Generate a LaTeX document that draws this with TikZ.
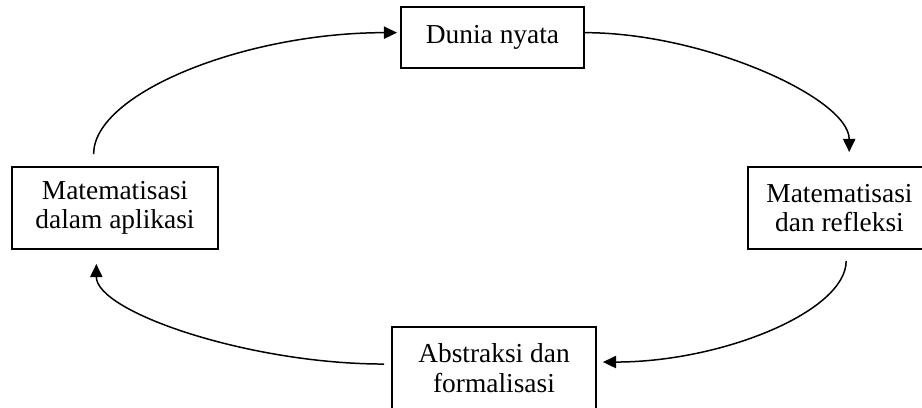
\documentclass[tikz,border=0pt]{standalone}
\usepackage{fontspec}
\setmainfont{Liberation Serif}
\usetikzlibrary{arrows.meta}
\begin{document}
\begin{tikzpicture}[x=0.02cm, y=0.02cm, box/.style={draw, line width=1.1pt, align=center, inner sep=0pt, minimum height=1.64cm, font=\fontsize{15.6}{16.7}\selectfont}, flow/.style={-{Triangle[length=7.5pt,width=7pt]}, line width=0.85pt}]
   \useasboundingbox (0,0) rectangle (922,407);
   \node[box, minimum width=3.66cm, minimum height=1.22cm] (nyata) at (492.5,369.5) {Dunia nyata};
   \node[box, minimum width=4.12cm] (aplikasi)  at (115,199)   {Matematisasi\\dalam aplikasi};
   \node[box, minimum width=3.66cm] (refleksi)  at (839.5,199) {Matematisasi\\dan refleksi};
   \node[box, minimum width=4.08cm] (abstraksi) at (494,39)    {Abstraksi dan\\formalisasi};
   \draw[flow] ([yshift=0.24cm]aplikasi.117) .. controls +(0,61) and +(-152,0) .. ([xshift=-0.06cm]nyata.177);
   \draw[flow] (nyata.3) .. controls +(119,0) and +(0,54) .. ([yshift=0.28cm]refleksi.77);
   \draw[flow] ([yshift=-0.22cm]refleksi.-81) .. controls +(0,-50) and +(120,0) .. ([xshift=0.12cm,yshift=-0.72cm]abstraksi.north east);
   \draw[flow] ([xshift=-0.14cm,yshift=-0.76cm]abstraksi.north west) .. controls +(-135,0) and +(0,-48) .. ([yshift=-0.28cm]aplikasi.-114);
\end{tikzpicture}
\end{document}
